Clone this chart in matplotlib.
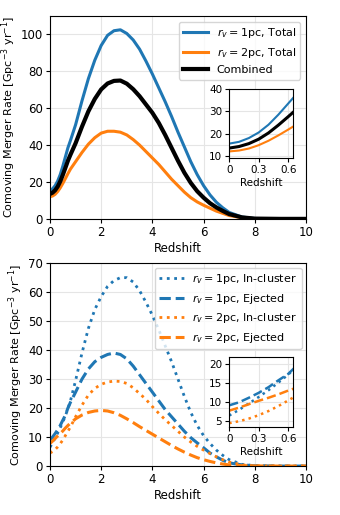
import numpy as np
import matplotlib
matplotlib.use('Agg')
from matplotlib import pyplot as plt

plt.rcParams['font.size'] = 8.5
plt.rcParams['font.family'] = 'DejaVu Sans'

z = np.array([0, 0.1, 0.2, 0.3, 0.4, 0.5, 0.6, 0.7, 0.8,
              1.0, 1.25, 1.5, 1.75, 2.0, 2.25, 2.5, 2.75,
              3.0, 3.25, 3.5, 3.75, 4.0, 4.25, 4.5, 4.75,
              5.0, 5.25, 5.5, 5.75, 6.0, 6.25, 6.5, 6.75,
              7.0, 7.5, 8.0, 9.0, 10.0])

# top panel: totals
total_1pc = np.array([15.5, 16.3, 18, 20.5, 24, 28.5, 33.5, 38.5, 42.5,
                      51, 64, 76, 86, 94, 99.5, 102, 102.5,
                      100.5, 97, 92, 85.5, 78.5, 71, 63.5, 55.5,
                      47, 39, 31, 24, 18, 13, 9, 6,
                      3.5, 1, 0.2, 0, 0])
total_2pc = np.array([12, 12.4, 13.3, 14.8, 16.8, 19.2, 21.8, 24.5, 27,
                      31, 36, 40.5, 44, 46.5, 47.5, 47.5, 47,
                      45.5, 43, 40, 36.5, 33, 29.5, 25.5, 21.5,
                      18, 14.5, 11.5, 9.2, 7.4, 5.8, 4.2, 3,
                      1.8, 0.6, 0.1, 0, 0])
combined = np.array([13.5, 14.2, 15.5, 17.5, 20.3, 23.8, 27.6, 31.5, 34.8,
                     41, 50, 58.3, 65, 70.2, 73.4, 74.8, 75,
                     73.3, 70.3, 66.5, 62, 57.5, 52, 45.5, 38.5,
                     31.5, 25, 19.5, 15, 11.5, 8.5, 6.2, 4.3,
                     2.6, 0.8, 0.15, 0, 0])

# bottom panel: in-cluster and ejected
incl_1pc = np.array([6.5, 8, 9.7, 11.4, 13.2, 15.2, 17.3, 19.8, 22.5,
                     29.5, 39, 47.5, 54, 58.5, 62, 64, 65,
                     65, 63.5, 60.5, 56.5, 52, 47, 41.5, 36,
                     30, 24, 18.5, 14, 10.5, 7.8, 5.5, 3.7,
                     2.2, 0.6, 0.1, 0, 0])
ej_1pc = np.array([9.2, 10, 11.2, 12.5, 14, 15.8, 17.5, 20, 22,
                   25.5, 30, 33.5, 36, 37.5, 38.5, 39, 38.5,
                   37, 34.5, 31.5, 28.5, 25.5, 22.5, 19.5, 17,
                   14.5, 12, 9.8, 8, 6.3, 4.5, 3.2, 2,
                   1.1, 0.4, 0.1, 0, 0])
incl_2pc = np.array([4.5, 5, 5.7, 6.6, 7.7, 9, 10.5, 12, 13.5,
                     17, 21, 24.5, 26.8, 28.2, 29, 29.3, 29.2,
                     28.5, 27, 25, 23, 20.5, 18.2, 16, 14,
                     12, 10, 8.3, 6.8, 5.5, 4.3, 3.2, 2.2,
                     1.4, 0.4, 0.1, 0, 0])
ej_2pc = np.array([7.8, 8.6, 9.5, 10.4, 11.2, 12.1, 13.1, 14, 14.8,
                   16.3, 17.6, 18.5, 19, 19.2, 19, 18.4, 17.5,
                   16.3, 15, 13.6, 12.3, 11, 9.7, 8.4, 7.1,
                   5.9, 4.8, 3.8, 2.9, 2.2, 1.6, 1.1, 0.7,
                   0.4, 0.15, 0.05, 0, 0])

blue = '#1f77b4'
orange = '#ff7f0e'
ylab = 'Comoving Merger Rate [Gpc$^{-3}$ yr$^{-1}$]'

fig = plt.figure(figsize=(3.4, 5.15), dpi=100)

# ---- top panel
ax1 = fig.add_axes([0.147, 0.575, 0.753, 0.394])
ax1.plot(z, total_1pc, color=blue, lw=2.2, label='$r_v = 1$pc, Total')
ax1.plot(z, total_2pc, color=orange, lw=2.2, label='$r_v = 2$pc, Total')
ax1.plot(z, combined, color='k', lw=3, label='Combined')
ax1.set_xlim(0, 10)
ax1.set_ylim(0, 110)
ax1.set_yticks([0, 20, 40, 60, 80, 100])
ax1.set_xlabel('Redshift', labelpad=2)
ax1.set_ylabel(ylab, labelpad=2, fontsize=8)
ax1.grid(color='#e5e5e5', lw=0.8)
ax1.legend(loc='upper right', fontsize=8, borderaxespad=0.5, handlelength=2.2)

in1 = fig.add_axes([0.674, 0.693, 0.188, 0.134])
in1.plot(z, total_1pc, color=blue, lw=1.5)
in1.plot(z, total_2pc, color=orange, lw=1.5)
in1.plot(z, combined, color='k', lw=2.2)
in1.set_xlim(0, 0.65)
in1.set_ylim(9, 40)
in1.set_xticks([0, 0.3, 0.6])
in1.set_xticklabels(['0', '0.3', '0.6'])
in1.set_yticks([10, 20, 30, 40])
in1.set_xlabel('Redshift', labelpad=2, fontsize=7.5)
in1.grid(color='#e5e5e5', lw=0.8)

# ---- bottom panel
ax2 = fig.add_axes([0.147, 0.095, 0.753, 0.394])
ax2.plot(z, incl_1pc, color=blue, lw=2, ls=':', label='$r_v = 1$pc, In-cluster')
ax2.plot(z, ej_1pc, color=blue, lw=2.2, ls='--', label='$r_v = 1$pc, Ejected')
ax2.plot(z, incl_2pc, color=orange, lw=2, ls=':', label='$r_v = 2$pc, In-cluster')
ax2.plot(z, ej_2pc, color=orange, lw=2.2, ls='--', label='$r_v = 2$pc, Ejected')
ax2.set_xlim(0, 10)
ax2.set_ylim(0, 70)
ax2.set_xlabel('Redshift', labelpad=2)
ax2.set_ylabel(ylab, labelpad=2, fontsize=8)
ax2.grid(color='#e5e5e5', lw=0.8)
ax2.legend(loc='upper right', fontsize=8, borderaxespad=0.4, handlelength=2.2)

in2 = fig.add_axes([0.674, 0.171, 0.188, 0.136])
in2.plot(z, incl_1pc, color=blue, lw=1.8, ls=':')
in2.plot(z, ej_1pc, color=blue, lw=1.8, ls='--')
in2.plot(z, incl_2pc, color=orange, lw=1.8, ls=':')
in2.plot(z, ej_2pc, color=orange, lw=1.8, ls='--')
in2.set_xlim(0, 0.65)
in2.set_ylim(3.5, 22)
in2.set_xticks([0, 0.3, 0.6])
in2.set_xticklabels(['0', '0.3', '0.6'])
in2.set_yticks([5, 10, 15, 20])
in2.set_xlabel('Redshift', labelpad=2, fontsize=7.5)
in2.grid(color='#e5e5e5', lw=0.8)

for a in (ax1, ax2):
    a.tick_params(length=3, width=0.8, pad=2, labelsize=8.5)
for a in (in1, in2):
    a.tick_params(length=3, width=0.8, pad=2, labelsize=7.5)

fig.savefig('out.png', dpi=100)
